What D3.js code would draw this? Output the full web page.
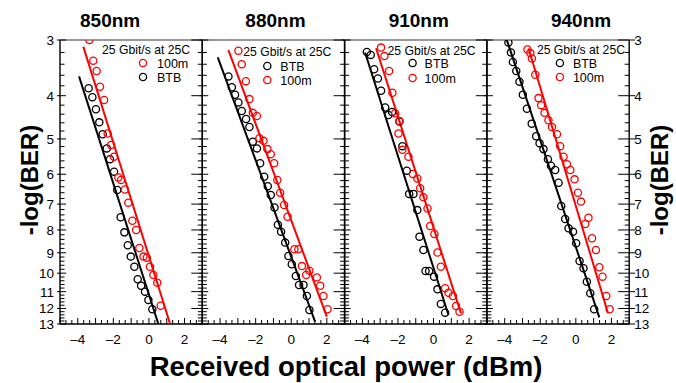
<!DOCTYPE html>
<html>
<head>
<meta charset="utf-8">
<script src="https://cdn.jsdelivr.net/npm/d3@7"></script>
<style>
  body { margin: 0; background: #fff; }
  svg { display: block; font-family: "Liberation Sans", Arial, sans-serif; }
</style>
</head>
<body>
<div id="chart"></div>
<script>
// -log(BER) vs received optical power (dBm), per wavelength
const wavelengths = ['850nm', '880nm', '910nm', '940nm'];
const legendHeader = '25 Gbit/s at 25C';
const legendOrder = [['100m', 'BTB'], ['BTB', '100m'], ['BTB', '100m'], ['BTB', '100m']];
const yTickValues = [3, 4, 5, 6, 7, 8, 9, 10, 11, 12, 13];
const xTickLabels = [-4, -2, 0, 2];

const btb850 = [[-3.39, 3.85], [-3.18, 4.03], [-2.98, 4.29], [-2.79, 4.59], [-2.60, 4.88], [-2.37, 5.25], [-2.19, 5.55], [-1.96, 5.92], [-1.78, 6.51], [-1.59, 7.49], [-1.38, 8.10], [-1.19, 8.66], [-1.02, 9.18], [-0.82, 9.67], [-0.63, 10.32], [-0.44, 10.67], [-0.22, 11.0], [-0.03, 11.48], [0.19, 12.05]];
const m100_850 = [[-3.35, 3.0], [-3.13, 3.34], [-2.94, 3.52], [-2.75, 3.82], [-2.52, 4.09], [-2.32, 4.86], [-2.13, 5.16], [-1.96, 5.48], [-1.72, 6.10], [-1.57, 6.18], [-1.35, 6.49], [-1.16, 6.95], [-0.93, 7.63], [-0.72, 8.0], [-0.54, 8.78], [-0.31, 9.18], [-0.12, 9.23], [0.06, 9.67], [0.25, 10.09], [0.47, 10.50], [0.66, 11.83]];

const btb880 = [[-3.53, 3.62], [-3.34, 3.83], [-3.16, 3.98], [-2.97, 4.14], [-2.78, 4.33], [-2.54, 4.51], [-2.35, 4.70], [-2.16, 5.07], [-1.93, 5.25], [-1.75, 5.67], [-1.52, 6.08], [-1.32, 6.38], [-1.15, 6.68], [-0.94, 7.12], [-0.75, 7.79], [-0.57, 8.07], [-0.34, 8.54], [-0.16, 9.15], [0.03, 9.55], [0.26, 10.15], [0.44, 10.63], [0.69, 10.63], [0.88, 11.25], [1.02, 12.09]];
const m100_880 = [[-2.97, 3.17], [-2.78, 3.40], [-2.55, 3.71], [-2.35, 4.07], [-2.16, 4.37], [-1.93, 4.44], [-1.79, 4.98], [-1.56, 5.05], [-1.34, 5.27], [-1.15, 5.41], [-0.96, 5.67], [-0.78, 6.18], [-0.62, 6.60], [-0.40, 7.03], [-0.21, 7.47], [0.18, 8.84], [0.40, 8.84], [0.60, 9.64], [0.84, 10.09], [1.02, 9.87], [1.44, 10.22], [1.63, 10.67], [1.81, 11.25], [2.04, 12.05]];

const btb910 = [[-3.75, 3.19], [-3.53, 3.24], [-3.34, 3.49], [-3.13, 3.66], [-2.95, 3.90], [-2.72, 4.25], [-2.54, 4.42], [-2.33, 4.35], [-1.92, 4.57], [-1.75, 5.19], [-1.50, 5.89], [-1.37, 6.64], [-1.13, 6.64], [-0.91, 7.22], [-0.79, 8.28], [-0.57, 8.87], [-0.45, 9.89], [-0.25, 9.89], [0.03, 10.18], [0.22, 10.87], [0.41, 11.72], [0.65, 12.26]];
const m100_910 = [[-2.95, 3.12], [-2.76, 3.26], [-2.50, 3.52], [-2.31, 3.94], [-2.16, 4.38], [-1.92, 4.56], [-1.97, 4.86], [-1.75, 5.29], [-1.41, 5.48], [-1.16, 5.99], [-0.91, 6.13], [-0.75, 6.45], [-0.57, 6.76], [-0.34, 7.16], [-0.19, 7.84], [0.05, 8.17], [0.22, 8.99], [0.41, 9.67], [0.65, 10.81], [0.84, 11.06], [1.09, 11.25], [1.27, 11.85], [1.46, 12.20]];

const btb940 = [[-3.79, 3.04], [-3.65, 3.20], [-3.54, 3.36], [-3.35, 3.52], [-3.17, 3.72], [-2.98, 3.98], [-2.75, 4.28], [-2.48, 4.62], [-2.23, 4.93], [-2.04, 5.11], [-1.82, 5.27], [-1.57, 5.55], [-1.40, 5.74], [-1.16, 5.87], [-0.97, 6.27], [-0.82, 7.07], [-0.60, 7.56], [-0.41, 7.93], [-0.16, 8.07], [0.02, 8.57], [0.21, 9.39], [0.43, 9.75], [0.62, 10.45], [0.81, 11.09], [1.03, 12.05]];
const m100_940 = [[-2.72, 3.15], [-2.56, 3.21], [-2.47, 3.30], [-2.28, 3.59], [-2.10, 4.05], [-1.95, 4.20], [-1.76, 4.37], [-1.54, 4.54], [-1.34, 4.70], [-1.06, 4.88], [-0.88, 5.19], [-0.69, 5.48], [-0.50, 5.70], [-0.31, 5.87], [-0.07, 6.16], [0.12, 6.60], [0.29, 6.91], [0.53, 7.76], [0.71, 7.51], [0.91, 8.35], [1.13, 8.87], [1.32, 9.70], [1.50, 10.18], [1.71, 11.25], [1.90, 12.05]];

// fitted lines, two end points each
const fitBtb = [[[-3.93, 3.62], [0.53, 13]], [[-4.13, 3.28], [1.34, 12.84]], [[-3.85, 3.20], [0.84, 12.41]], [[-3.88, 3.0], [1.32, 12.56]]];
const fit100m = [[[-3.69, 3.105], [1.19, 13]], [[-3.53, 3.16], [2.0, 12.52]], [[-3.23, 3.13], [1.54, 12.3]], [[-2.66, 3.13], [1.81, 12.3]]];

const btbSets = [btb850, btb880, btb910, btb940];
const m100Sets = [m100_850, m100_880, m100_910, m100_940];

const colors = { 'BTB': '#000000', '100m': '#ff0000' };

// layout
const width = 676, height = 383;
const plotLeft = 60, plotTop = 40, plotBottom = 324, panelW = 142.3;
const titleDx = [-21, 2, 3, 23];
const legendPos = [
    { hx: 42, hy: 54, cx: 83, tx: 97, r0: 63, r1: 77 },
    { hx: 41, hy: 56, cx: 65, tx: 78, r0: 66, r1: 80 },
    { hx: 43, hy: 55, cx: 68, tx: 80, r0: 63, r1: 78 },
    { hx: 50, hy: 54, cx: 73, tx: 86, r0: 63, r1: 77 }
];

const svg = d3.select('#chart').append('svg')
    .attr('width', width)
    .attr('height', height);

const y = d3.scaleLog().domain([3, 13]).range([plotTop, plotBottom]);
const minorY = d3.range(3, 13.001, 0.2).map(v => +v.toFixed(1));

wavelengths.forEach((name, i) => {
    const x0 = plotLeft + i * panelW;
    const x = d3.scaleLinear().domain([-5, 3]).range([x0, x0 + panelW]);
    const g = svg.append('g');

    g.append('clipPath').attr('id', 'clip' + i)
        .append('rect')
        .attr('x', x0).attr('y', plotTop)
        .attr('width', panelW).attr('height', plotBottom - plotTop);

    // frame
    g.append('line').attr('x1', x0).attr('x2', x0 + panelW).attr('y1', plotTop).attr('y2', plotTop)
        .attr('stroke', '#777').attr('stroke-width', 1.6);
    g.append('line').attr('x1', x0).attr('x2', x0 + panelW).attr('y1', plotBottom).attr('y2', plotBottom)
        .attr('stroke', '#000').attr('stroke-width', 1.4);
    g.append('line').attr('x1', x0).attr('x2', x0).attr('y1', plotTop).attr('y2', plotBottom)
        .attr('stroke', '#000').attr('stroke-width', 1.4);
    g.append('line').attr('x1', x0 + panelW).attr('x2', x0 + panelW).attr('y1', plotTop).attr('y2', plotBottom)
        .attr('stroke', '#000').attr('stroke-width', 1.4);

    // y ticks on both sides, pointing inward
    minorY.forEach(v => {
        const major = Number.isInteger(v);
        g.append('line')
            .attr('x1', x0 - (major ? 3 : 0)).attr('x2', x0 + (major ? 6 : 4.5))
            .attr('y1', y(v)).attr('y2', y(v))
            .attr('stroke', '#000').attr('stroke-width', 1);
        g.append('line')
            .attr('x1', x0 + panelW + (major && i === 3 ? 6 : 0)).attr('x2', x0 + panelW - (major ? 11 : 4.5))
            .attr('y1', y(v)).attr('y2', y(v))
            .attr('stroke', '#000').attr('stroke-width', 1);
    });

    // x ticks every 1/3 dBm, pointing up
    d3.range(0, 25).map(k => -5 + k / 3).forEach(v => {
        const major = Math.abs(v - Math.round(v)) < 1e-6;
        g.append('line')
            .attr('x1', x(v)).attr('x2', x(v))
            .attr('y1', plotBottom).attr('y2', plotBottom - (major ? 6 : 4))
            .attr('stroke', '#000').attr('stroke-width', 1);
    });

    g.selectAll('text.xl').data(xTickLabels).join('text')
        .attr('class', 'xl')
        .attr('x', d => x(d)).attr('y', plotBottom + 20)
        .attr('text-anchor', 'middle')
        .attr('font-size', 13.5)
        .text(d => String(d).replace('-', '\u2013'));

    // y tick labels on outer sides only
    if (i === 0) {
        g.selectAll('text.yl').data(yTickValues).join('text')
            .attr('class', 'yl')
            .attr('x', x0 - 6).attr('y', d => y(d) + 5)
            .attr('text-anchor', 'end').attr('font-size', 13.5)
            .text(d => d);
    }
    if (i === 3) {
        g.selectAll('text.yl').data(yTickValues).join('text')
            .attr('class', 'yl')
            .attr('x', x0 + panelW + 5).attr('y', d => y(d) + 5)
            .attr('text-anchor', 'start').attr('font-size', 13.5)
            .text(d => d);
    }

    g.append('text')
        .attr('x', x0 + panelW / 2 + titleDx[i]).attr('y', 27)
        .attr('text-anchor', 'middle')
        .attr('font-size', 19).attr('font-weight', 'bold')
        .text(name);

    const plot = g.append('g').attr('clip-path', 'url(#clip' + i + ')');
    const line = d3.line().x(d => x(d[0])).y(d => y(d[1]));

    plot.append('path').datum(fitBtb[i])
        .attr('d', line).attr('fill', 'none')
        .attr('stroke', colors['BTB']).attr('stroke-width', 2);
    plot.append('path').datum(fit100m[i])
        .attr('d', line).attr('fill', 'none')
        .attr('stroke', colors['100m']).attr('stroke-width', 2);

    plot.selectAll('circle.btb').data(btbSets[i]).join('circle')
        .attr('class', 'btb')
        .attr('cx', d => x(d[0])).attr('cy', d => y(d[1])).attr('r', 3.6)
        .attr('fill', 'none').attr('stroke', colors['BTB']).attr('stroke-width', 1.3);
    plot.selectAll('circle.m100').data(m100Sets[i]).join('circle')
        .attr('class', 'm100')
        .attr('cx', d => x(d[0])).attr('cy', d => y(d[1])).attr('r', 3.6)
        .attr('fill', 'none').attr('stroke', colors['100m']).attr('stroke-width', 1.3);

    // legend
    const lp = legendPos[i];
    g.append('text')
        .attr('x', x0 + lp.hx).attr('y', lp.hy)
        .attr('font-size', 12.2)
        .text(legendHeader);
    legendOrder[i].forEach((key, k) => {
        const ry = k === 0 ? lp.r0 : lp.r1;
        g.append('circle')
            .attr('cx', x0 + lp.cx).attr('cy', ry).attr('r', 3.6)
            .attr('fill', 'none').attr('stroke', colors[key]).attr('stroke-width', 1.3);
        g.append('text')
            .attr('x', x0 + lp.tx).attr('y', ry + 4.5)
            .attr('font-size', 12.5)
            .text(key);
    });
});

svg.append('text')
    .attr('x', 346).attr('y', 376)
    .attr('text-anchor', 'middle')
    .attr('font-size', 27.5).attr('font-weight', 'bold')
    .text('Received optical power (dBm)');

[30, 660].forEach(cx => {
    svg.append('text')
        .attr('transform', 'translate(' + cx + ',180) rotate(-90)')
        .attr('text-anchor', 'middle')
        .attr('dy', '0.35em')
        .attr('font-size', 24).attr('font-weight', 'bold')
        .text('-log(BER)');
});
</script>
</body>
</html>
